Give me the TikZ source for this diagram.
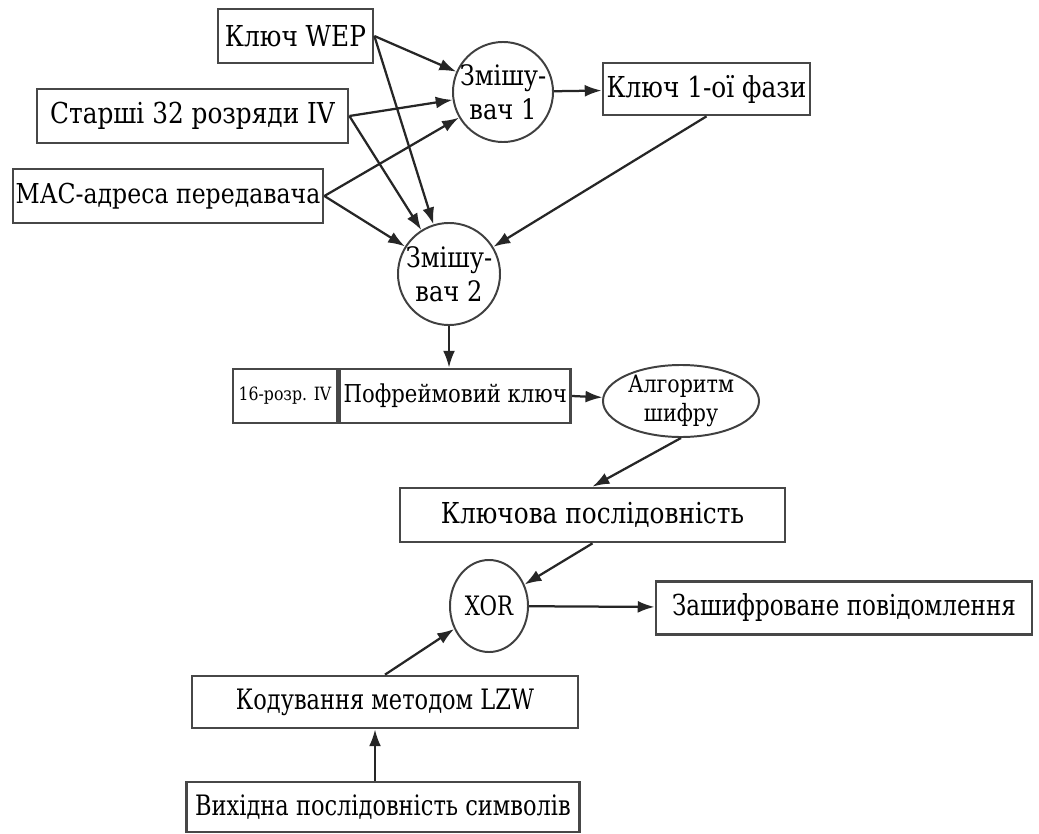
\documentclass[tikz,border=0pt]{standalone}
\usepackage{fontspec}
\setmainfont{DejaVu Serif}[FakeStretch=0.86]
\newfontfamily\narrowfont{DejaVu Serif}[FakeStretch=0.8]
\usetikzlibrary{shapes.geometric, arrows.meta, positioning}

\begin{document}
\begin{tikzpicture}[
        % One unit = one pixel of the 1039x834 layout
        x=0.025cm, y=-0.025cm,
        % Data blocks: white fill, dark border, sharp corners
        block/.style = {rectangle, draw=black!72, line width=1.9pt, fill=white,
                        inner sep=0pt, align=center, minimum height=13.5mm,
                        font=\fontsize{20.5}{24}\selectfont},
        % Same block, condensed lettering (lower part of the scheme)
        narrow_block/.style = {block, font=\narrowfont\fontsize{20}{24}\selectfont},
        % Mixers and operators: ellipses of fixed size
        mixer/.style = {ellipse, draw=black!75, line width=1.4pt, fill=white,
                        inner xsep=-20pt, inner ysep=-20pt, align=center,
                        font=\fontsize{20}{24.5}\selectfont},
        % Arrows: dark gray, filled tips
        arrow/.style = {draw, line width=1.6pt, color=black!85,
                        -{Latex[length=12pt, width=8.5pt]}}
    ]

    % --- Frame ---
    \useasboundingbox (0,0) rectangle (1039,834);

    % --- Inputs of the mixers ---
    \node[block, minimum width=38.75mm] (key_wep) at (295.5,36) {Ключ WEP};
    \node[block, minimum width=77.75mm] (msb_iv) at (192.5,116) {Старші 32 розряди IV};
    \node[block, minimum width=77.5mm, font=\fontsize{19.5}{24}\selectfont] (mac_addr) at (168,196) {МАС-адреса передавача};

    % --- Mixing phases ---
    \node[mixer, minimum width=25mm, minimum height=25mm] (mixer1) at (503,92) {Змішу-\\вач 1};
    \node[block, minimum width=51.75mm, minimum height=13mm] (phase1_key) at (706.5,89) {Ключ 1-ої фази};
    \node[mixer, minimum width=25.5mm, minimum height=25.5mm] (mixer2) at (449,274) {Змішу-\\вач 2};

    % --- Per-frame key and cipher ---
    \node[block, minimum width=26mm, font=\fontsize{13}{16}\selectfont] (iv16) at (285,396) {16-розр. IV};
    \node[block, minimum width=57.75mm, right=0pt of iv16, font=\fontsize{17.5}{22}\selectfont] (frame_key) {Пофреймовий ключ};
    \node[mixer, minimum width=39mm, minimum height=18mm, font=\fontsize{17}{20}\selectfont] (cipher_alg) at (681,401) {Алгоритм\\шифру};
    \node[block, minimum width=96.25mm] (key_stream) at (592.5,515) {Ключова послідовність};

    % --- Encryption of the coded message ---
    \node[mixer, minimum width=19.5mm, minimum height=23mm, font=\narrowfont\fontsize{19}{23}\selectfont] (xor_op) at (489,606) {XOR};
    \node[narrow_block, minimum width=94mm, minimum height=13.25mm, font=\narrowfont\fontsize{20.5}{24}\selectfont] (cipher_msg) at (844,608) {Зашифроване повідомлення};
    \node[narrow_block, minimum width=96.5mm, minimum height=13mm] (lzw_code) at (385,702) {Кодування методом LZW};
    \node[narrow_block, minimum width=98.25mm, minimum height=12.5mm] (src_seq) at (383,807) {Вихідна послідовність символів};

    % --- Edges (Arrows) ---
    % Into the first mixer
    \draw[arrow] (key_wep.east) -- (mixer1);
    \draw[arrow] (msb_iv.east) -- (mixer1);
    \draw[arrow] (mac_addr.east) -- (mixer1);
    \draw[arrow] (mixer1) -- (phase1_key);

    % Into the second mixer
    \draw[arrow] (key_wep.east) -- (mixer2);
    \draw[arrow] (msb_iv.east) -- (mixer2);
    \draw[arrow] (mac_addr.east) -- (mixer2);
    \draw[arrow] (phase1_key.south) -- (mixer2);

    % Key stream
    \draw[arrow] (mixer2.south) -- (mixer2.south |- frame_key.north);
    \draw[arrow] (frame_key.east) -- (cipher_alg);
    \draw[arrow] (cipher_alg.south) -- (key_stream.north);
    \draw[arrow] (key_stream.south) -- (xor_op);

    % Message path
    \draw[arrow] (src_seq.north -| 375,0) -- (lzw_code.south -| 375,0);
    \draw[arrow] (lzw_code.north) -- (xor_op);
    \draw[arrow] (xor_op) -- (cipher_msg);

\end{tikzpicture}
\end{document}
